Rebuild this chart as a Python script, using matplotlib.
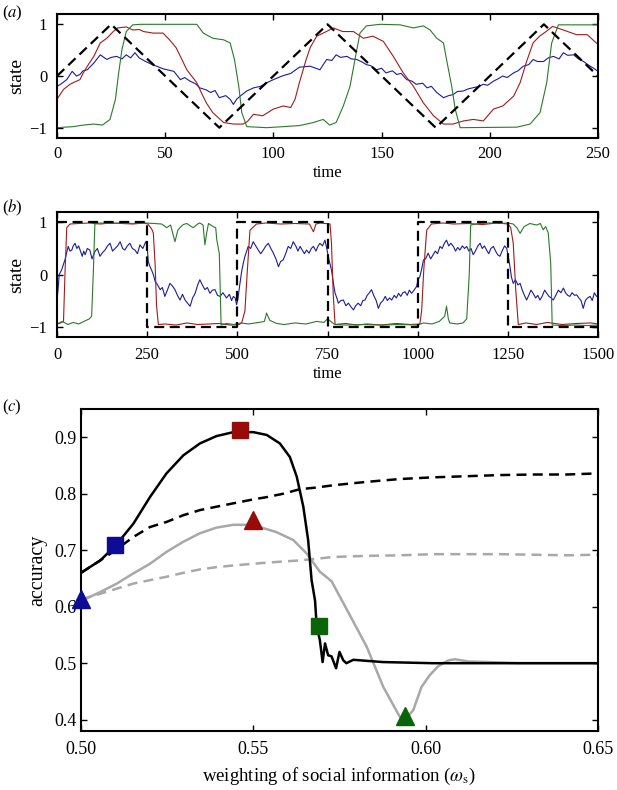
import numpy as np
import matplotlib
matplotlib.use('Agg')
import matplotlib.pyplot as plt

plt.rcParams['font.family'] = 'serif'
plt.rcParams['font.serif'] = ['Liberation Serif', 'DejaVu Serif']
plt.rcParams['mathtext.fontset'] = 'stix'

BLUE = '#1c1c9c'
RED = '#a01c1c'
GREEN = '#2a7a2a'
GRAY = '#a8a8a8'

# ---------- panel (a): triangle-wave environment ----------
a_env_t = [0, 25, 75, 125, 175, 225, 250]
a_env_v = [0, 1, -1, 1, -1, 1, 0]

a_blue = [(0, -0.2), (2, -0.15), (4.5, -0.07), (7, 0.09), (9, 0.0), (10.6, 0.03), (12, 0.1), (14, 0.12),
          (17, 0.25), (20, 0.41), (23, 0.32), (25, 0.36), (27.6, 0.38), (30, 0.33), (32, 0.41), (34, 0.35),
          (36, 0.45), (38, 0.35), (41, 0.28), (44, 0.22), (46, 0.19), (49, 0.14), (51, 0.12), (54, 0.09),
          (57, -0.07), (59, -0.03), (61.5, -0.1), (64, -0.15), (66, -0.23), (69, -0.27), (71, -0.32),
          (73, -0.28), (75, -0.42), (78, -0.38), (80, -0.45), (81.5, -0.55), (83, -0.45), (84.6, -0.39),
          (87.7, -0.29), (90.8, -0.23), (94, -0.2), (97, -0.13), (100, -0.07), (104, 0.0), (108, 0.05),
          (112, 0.17), (117, 0.19), (121.5, 0.12), (124.6, 0.32), (127, 0.3), (129, 0.41), (131, 0.36),
          (134, 0.38), (136, 0.33), (138.5, 0.32), (141, 0.27), (143, 0.22), (145, 0.2), (147.7, 0.12),
          (150, 0.15), (152, 0.06), (155, 0.1), (157, 0.03), (159, 0.05), (161.6, -0.07), (164, -0.1),
          (166, -0.16), (169, -0.14), (171, -0.23), (173, -0.2), (175.5, -0.32), (178.6, -0.42),
          (181, -0.38), (183, -0.36), (185, -0.3), (187.8, -0.29), (190, -0.25), (192, -0.23), (195, -0.2),
          (197, -0.16), (199, -0.18), (201.7, -0.1), (204, -0.05), (206, 0.0), (208, -0.03), (211, 0.06),
          (213, 0.1), (215.5, 0.19), (218, 0.22), (220, 0.32), (222, 0.28), (224.8, 0.28), (227, 0.35),
          (229.4, 0.38), (232, 0.33), (234, 0.45), (236, 0.4), (238.7, 0.41), (241, 0.33), (243.3, 0.28),
          (246, 0.2), (248, 0.15), (250, 0.09)]

a_red = [(0, -0.45), (3, -0.26), (6, -0.16), (8, -0.12), (10.6, -0.07), (12, 0.05), (14, 0.19), (17, 0.38),
         (20, 0.64), (23, 0.73), (26, 0.86), (28, 0.93), (32, 0.95), (35, 0.89), (38, 0.9), (40, 0.86),
         (44.5, 0.83), (49, 0.83), (52, 0.7), (55, 0.55), (57, 0.38), (60, 0.12), (64.6, -0.13),
         (67, -0.35), (69, -0.52), (72, -0.71), (77, -0.9), (81.5, -0.93), (86, -0.93), (88, -0.88),
         (90.8, -0.74), (95, -0.77), (100, -0.64), (104.6, -0.58), (108, -0.61), (110, -0.45),
         (112, -0.13), (115, 0.3), (117, 0.55), (120, 0.77), (123, 0.83), (127.7, 0.93), (132, 0.86),
         (137, 0.86), (141.6, 0.73), (146, 0.77), (150.8, 0.67), (155.4, 0.38), (160, 0.06),
         (164.7, -0.2), (169.3, -0.52), (174, -0.77), (178.6, -0.93), (183, -0.93), (187.8, -0.87),
         (192.4, -0.84), (197, -0.87), (201.7, -0.64), (206, -0.58), (211, -0.39), (214, -0.13),
         (217, 0.28), (220, 0.64), (223, 0.77), (226, 0.86), (229, 0.96), (234, 0.89), (240, 0.8),
         (245, 0.8), (250, 0.61)]

a_green = [(0, -1.0), (7.5, -0.98), (12, -0.95), (17, -0.93), (21, -0.95), (24.5, -0.84), (27, -0.45),
           (28.3, 0.0), (30, 0.51), (32, 0.86), (35, 0.99), (38.4, 1.0), (50, 1.0), (64.6, 1.0),
           (67.6, 0.83), (72, 0.73), (77, 0.7), (80, 0.64), (82, 0.32), (84, -0.2), (85.4, -0.71),
           (87.7, -0.98), (97, -1.0), (112, -0.96), (118.5, -0.9), (123, -0.84), (126, -0.95),
           (129, -0.9), (132.3, -0.58), (135.4, -0.2), (137.7, 0.32), (140, 0.83), (143, 0.97),
           (149.3, 1.0), (158.5, 0.99), (164.7, 0.93), (169.3, 0.97), (172.4, 0.89), (175.5, 0.73),
           (178.6, 0.64), (180, 0.32), (182.4, -0.2), (184, -0.64), (186.3, -1.0), (212.5, -0.99),
           (218.6, -0.93), (223.2, -0.71), (226.3, -0.13), (228.6, 0.64), (231.7, 0.99), (250, 0.99)]

# ---------- panel (b): switching environment ----------
b_env_t = [0, 250, 250, 500, 500, 750, 750, 1000, 1000, 1250, 1250, 1500]
b_env_v = [1, 1, -1, -1, 1, 1, -1, -1, 1, 1, -1, -1]

b_blue = [(0, -0.5), (4, -0.2), (6, 0.0), (10, 0.05), (13, 0.09), (18, 0.2), (22, 0.28), (26, 0.4), (31, 0.54),
          (36, 0.45), (41, 0.47), (45, 0.55), (50, 0.6), (55, 0.5), (60, 0.55), (64, 0.47), (70, 0.35),
          (74, 0.45), (78, 0.38), (84, 0.5), (91, 0.47), (97, 0.3), (105, 0.44), (112, 0.5), (119, 0.35),
          (126, 0.42), (133, 0.47), (140, 0.55), (147, 0.6), (154, 0.45), (161, 0.5), (168, 0.55),
          (175, 0.63), (182, 0.5), (188, 0.47), (195, 0.55), (202, 0.6), (209, 0.5), (216, 0.47),
          (223, 0.4), (230, 0.57), (238, 0.5), (246, 0.63), (250, 0.55), (253, 0.25), (258, 0.15),
          (262, 0.09), (267, 0.0), (272, -0.13), (279, -0.2), (286, -0.29), (292, -0.25), (299, -0.42),
          (306, -0.3), (313, -0.17), (320, -0.22), (327, -0.29), (334, -0.4), (341, -0.49), (348, -0.38),
          (355, -0.49), (362, -0.55), (369, -0.61), (376, -0.45), (383, -0.36), (390, -0.2), (396, -0.1),
          (403, -0.2), (410, -0.29), (417, -0.25), (424, -0.36), (431, -0.3), (438, -0.29), (445, -0.4),
          (452, -0.42), (460, -0.35), (470, -0.45), (478, -0.38), (484, -0.5), (489, -0.42), (494, -0.45),
          (498, -0.58), (502, -0.45), (506, -0.23), (512, 0.06), (516, 0.2), (521, 0.35), (526, 0.45),
          (530, 0.54), (537, 0.5), (544, 0.63), (551, 0.55), (558, 0.47), (565, 0.4), (572, 0.47),
          (579, 0.55), (586, 0.6), (593, 0.5), (600, 0.41), (607, 0.3), (614, 0.15), (620, 0.25),
          (627, 0.28), (634, 0.4), (641, 0.54), (648, 0.5), (655, 0.63), (662, 0.55), (668, 0.45),
          (674, 0.54), (680, 0.47), (686, 0.4), (692, 0.47), (699, 0.41), (705, 0.5), (711, 0.54),
          (718, 0.45), (724, 0.55), (729, 0.6), (736, 0.55), (743, 0.66), (748, 0.5), (752, 0.35),
          (757, 0.2), (761, 0.09), (766, -0.15), (771, -0.36), (776, -0.45), (780, -0.55), (787, -0.5),
          (794, -0.49), (801, -0.6), (808, -0.55), (815, -0.62), (822, -0.68), (828, -0.6), (835, -0.55),
          (842, -0.6), (848, -0.5), (854, -0.49), (860, -0.4), (866, -0.35), (872, -0.29), (878, -0.4),
          (885, -0.5), (891, -0.65), (897, -0.55), (904, -0.5), (910, -0.42), (916, -0.5), (922, -0.45),
          (928, -0.49), (935, -0.4), (941, -0.45), (947, -0.36), (953, -0.42), (959, -0.35), (965, -0.33),
          (971, -0.4), (977, -0.3), (983, -0.36), (990, -0.3), (997, -0.23), (1001, -0.1), (1006, -0.04),
          (1011, 0.1), (1016, 0.28), (1022, 0.3), (1029, 0.41), (1036, 0.3), (1043, 0.38), (1049, 0.45),
          (1055, 0.4), (1062, 0.54), (1068, 0.5), (1074, 0.6), (1080, 0.66), (1086, 0.55), (1092, 0.6),
          (1099, 0.54), (1105, 0.45), (1111, 0.52), (1117, 0.47), (1124, 0.55), (1130, 0.5), (1136, 0.54),
          (1142, 0.45), (1148, 0.5), (1154, 0.38), (1160, 0.45), (1167, 0.55), (1173, 0.6), (1179, 0.5),
          (1185, 0.55), (1191, 0.47), (1197, 0.4), (1203, 0.5), (1210, 0.54), (1216, 0.45), (1222, 0.38),
          (1228, 0.35), (1234, 0.45), (1241, 0.55), (1247, 0.5), (1251, 0.35), (1256, 0.15), (1260, -0.05),
          (1265, -0.17), (1271, -0.1), (1278, -0.2), (1284, -0.17), (1290, -0.3), (1296, -0.4),
          (1302, -0.49), (1308, -0.4), (1314, -0.3), (1320, -0.36), (1327, -0.45), (1333, -0.4),
          (1339, -0.49), (1345, -0.42), (1352, -0.3), (1358, -0.36), (1364, -0.42), (1370, -0.45),
          (1376, -0.49), (1383, -0.4), (1390, -0.3), (1397, -0.35), (1404, -0.26), (1410, -0.35),
          (1416, -0.4), (1422, -0.42), (1428, -0.35), (1435, -0.4), (1441, -0.39), (1447, -0.45),
          (1453, -0.5), (1459, -0.65), (1465, -0.5), (1471, -0.45), (1478, -0.42), (1484, -0.5),
          (1490, -0.35), (1496, -0.42), (1500, -0.42)]

b_red = [(0, -0.95), (10, -0.93), (18, -0.9), (22, 0.0), (27, 0.9), (36, 0.97), (60, 0.98), (90, 0.99),
         (120, 0.97), (150, 0.99), (180, 0.98), (210, 0.97), (240, 0.99), (252, 0.97), (262, 0.88),
         (267, 0.8), (272, 0.2), (276, -0.6), (281, -0.96), (300, -0.95), (330, -0.97), (360, -0.93),
         (390, -0.96), (420, -0.95), (450, -0.94), (480, -0.97), (505, -0.96), (512, -0.93), (521, -0.7),
         (527, 0.0), (535, 0.85), (553, 0.97), (580, 0.99), (620, 0.97), (660, 0.98), (700, 0.97),
         (711, 0.82), (718, 0.97), (730, 0.99), (757, 0.97), (761, 0.6), (766, -0.4), (771, -0.96),
         (800, -0.94), (830, -0.97), (860, -0.95), (900, -0.97), (940, -0.94), (980, -0.96),
         (1006, -0.95), (1011, -0.7), (1017, 0.1), (1025, 0.85), (1038, 0.97), (1070, 0.99),
         (1100, 0.97), (1140, 0.98), (1180, 0.96), (1220, 0.99), (1251, 0.97), (1258, 0.9),
         (1265, 0.6), (1272, -0.3), (1279, -0.96), (1300, -0.93), (1330, -0.96), (1360, -0.92),
         (1400, -0.96), (1440, -0.94), (1480, -0.93), (1500, -0.95)]

b_green = [(0, -0.95), (15, -0.9), (30, -0.96), (45, -0.92), (60, -0.95), (75, -0.9), (90, -0.85),
           (96, -0.8), (101, 0.1), (105, 0.97), (120, 0.99), (150, 0.98), (180, 0.99), (210, 0.98),
           (240, 0.99), (270, 0.98), (290, 0.97), (304, 0.9), (315, 0.95), (327, 0.63), (335, 0.85),
           (341, 0.9), (350, 0.96), (360, 0.98), (370, 0.93), (378, 0.9), (390, 0.97), (396, 0.99),
           (405, 0.95), (410, 0.57), (415, 0.8), (420, 0.98), (433, 0.92), (440, 0.9), (443, 0.67),
           (450, 0.4), (455, -0.97), (470, -0.94), (490, -0.96), (510, -0.93), (530, -0.95),
           (560, -0.92), (575, -0.9), (581, -0.74), (590, -0.88), (609, -0.94), (630, -0.96),
           (660, -0.93), (690, -0.95), (720, -0.9), (740, -0.92), (750, -0.85), (770, -0.96),
           (800, -0.97), (850, -0.96), (900, -0.97), (950, -0.96), (1000, -0.97), (1016, -0.93),
           (1040, -0.95), (1060, -0.9), (1075, -0.8), (1080, -0.61), (1085, -0.85), (1089, -0.93),
           (1110, -0.95), (1126, -0.93), (1136, -0.85), (1143, 0.0), (1147, 0.95), (1170, 0.98),
           (1200, 0.99), (1230, 0.98), (1250, 0.99), (1265, 0.97), (1275, 0.9), (1284, 0.79),
           (1295, 0.92), (1311, 0.98), (1330, 0.95), (1340, 0.98), (1348, 0.86), (1355, 0.92),
           (1362, 0.8), (1369, 0.2), (1373, -0.97), (1400, -0.98), (1440, -0.97), (1470, -0.98),
           (1500, -0.97)]

# ---------- panel (c): accuracy vs social weighting ----------
c_black_x = [0.500, 0.5056, 0.510, 0.5152, 0.520, 0.5248, 0.5297, 0.5345, 0.5393, 0.5442, 0.550, 0.5539,
             0.5577, 0.5606, 0.5626, 0.5645, 0.5659, 0.5669, 0.5679, 0.5684, 0.5693, 0.5701, 0.5708,
             0.5717, 0.5727, 0.5740, 0.5750, 0.5761, 0.5770, 0.5790, 0.5876, 0.6020, 0.6500]
c_black_y = [0.660, 0.682, 0.708, 0.747, 0.794, 0.836, 0.868, 0.889, 0.902, 0.909, 0.909, 0.904,
             0.889, 0.865, 0.830, 0.777, 0.718, 0.647, 0.611, 0.564, 0.541, 0.502, 0.535,
             0.514, 0.512, 0.491, 0.520, 0.505, 0.500, 0.506, 0.502, 0.500, 0.500]

c_black_dash_x = [0.500, 0.5056, 0.510, 0.5152, 0.520, 0.5248, 0.5297, 0.5345, 0.5393, 0.5442, 0.550,
                  0.5539, 0.5587, 0.5635, 0.5684, 0.5732, 0.5829, 0.5925, 0.6021, 0.6119, 0.6215,
                  0.6312, 0.6409, 0.6500]
c_black_dash_y = [0.660, 0.682, 0.700, 0.7235, 0.741, 0.750, 0.762, 0.771, 0.777, 0.783, 0.790,
                  0.794, 0.800, 0.808, 0.811, 0.815, 0.821, 0.826, 0.829, 0.831, 0.833,
                  0.834, 0.834, 0.836]

c_gray_x = [0.500, 0.5016, 0.5056, 0.5104, 0.5152, 0.520, 0.5248, 0.5297, 0.5345, 0.5393, 0.5442, 0.548,
            0.5519, 0.5567, 0.5616, 0.5655, 0.5693, 0.5727, 0.578, 0.5829, 0.5877, 0.5906, 0.5925,
            0.594, 0.5964, 0.5988, 0.6012, 0.6037, 0.6066, 0.6085, 0.6124, 0.6182, 0.6268, 0.650]
c_gray_y = [0.613, 0.6145, 0.626, 0.641, 0.659, 0.676, 0.697, 0.715, 0.730, 0.740, 0.745, 0.745,
            0.741, 0.732, 0.718, 0.694, 0.662, 0.645, 0.585, 0.529, 0.458, 0.426, 0.405,
            0.400, 0.417, 0.458, 0.479, 0.495, 0.505, 0.507, 0.503, 0.502, 0.500, 0.500]

c_gray_dash_x = [0.500, 0.5056, 0.5104, 0.5152, 0.520, 0.5248, 0.5297, 0.5345, 0.5393, 0.5442, 0.550,
                 0.5539, 0.5587, 0.5635, 0.5684, 0.5732, 0.5829, 0.5925, 0.6021, 0.6119, 0.6215,
                 0.6312, 0.6409, 0.650]
c_gray_dash_y = [0.613, 0.623, 0.632, 0.641, 0.647, 0.653, 0.660, 0.666, 0.670, 0.673, 0.676,
                 0.678, 0.680, 0.682, 0.685, 0.688, 0.690, 0.691, 0.693, 0.693, 0.693,
                 0.692, 0.691, 0.692]

square_x = [0.510, 0.546, 0.569]
square_y = [0.710, 0.912, 0.565]
triangle_x = [0.500, 0.550, 0.594]
triangle_y = [0.614, 0.753, 0.407]
marker_colors = ['#0c0c96', '#990a0a', '#0a640a']


def style_axes(ax, fs, ypad, xpad):
    for s in ax.spines.values():
        s.set_linewidth(1.5)
    ax.tick_params(direction='in', top=True, right=True, length=4, width=1,
                   labelsize=fs)
    ax.tick_params(axis='y', pad=ypad)
    ax.tick_params(axis='x', pad=xpad)


def plot_pairs(ax, pairs, color, lw=0.8):
    arr = np.array(pairs)
    ax.plot(arr[:, 0], arr[:, 1], color=color, lw=lw)


def main():
    fig = plt.figure(figsize=(6.17, 7.90), dpi=100)

    # (a)
    ax1 = fig.add_axes([0.0924, 0.8253, 0.8768, 0.1570])
    plot_pairs(ax1, a_blue, BLUE)
    plot_pairs(ax1, a_red, RED)
    plot_pairs(ax1, a_green, GREEN)
    ax1.plot(a_env_t, a_env_v, color='black', lw=1.6, dashes=(4.5, 2.5))
    ax1.set_xlim(0, 250)
    ax1.set_ylim(-1.2, 1.2)
    ax1.set_xticks([0, 50, 100, 150, 200, 250])
    ax1.set_yticks([-1, 0, 1])
    style_axes(ax1, 12, 7, 6)
    ax1.set_xlabel('time', fontsize=12, labelpad=2)
    ax1.set_ylabel('state', fontsize=14, labelpad=3)
    fig.text(0.003, 1 - 13 / 790, r'($\mathit{a}$)', fontsize=12, va='center')

    # (b)
    ax2 = fig.add_axes([0.0924, 0.5734, 0.8768, 0.1582])
    plot_pairs(ax2, b_blue, BLUE)
    plot_pairs(ax2, b_red, RED)
    plot_pairs(ax2, b_green, GREEN)
    ax2.plot(b_env_t, b_env_v, color='black', lw=1.6, dashes=(4.5, 2.5))
    ax2.set_xlim(0, 1500)
    ax2.set_ylim(-1.2, 1.2)
    ax2.set_xticks([0, 250, 500, 750, 1000, 1250, 1500])
    ax2.set_yticks([-1, 0, 1])
    style_axes(ax2, 12, 7, 7)
    ax2.set_xlabel('time', fontsize=12, labelpad=2)
    ax2.set_ylabel('state', fontsize=14, labelpad=3)
    fig.text(0.003, 1 - 208 / 790, r'($\mathit{b}$)', fontsize=12, va='center')

    # (c)
    ax3 = fig.add_axes([0.1313, 0.0747, 0.8379, 0.4076])
    ax3.plot(c_gray_dash_x, c_gray_dash_y, color=GRAY, lw=1.8, dashes=(4, 2.5))
    ax3.plot(c_gray_x, c_gray_y, color=GRAY, lw=1.8)
    ax3.plot(c_black_dash_x, c_black_dash_y, color='black', lw=1.8, dashes=(4, 2.5))
    ax3.plot(c_black_x, c_black_y, color='black', lw=1.8)
    for x, y, c in zip(square_x, square_y, marker_colors):
        ax3.plot(x, y, marker='s', ms=12, color=c, mec=c, clip_on=False, zorder=5)
    for x, y, c in zip(triangle_x, triangle_y, marker_colors):
        ax3.plot(x, y, marker='^', ms=13, color=c, mec=c, clip_on=False, zorder=5)
    ax3.set_xlim(0.5, 0.65)
    ax3.set_ylim(0.38, 0.95)
    ax3.set_xticks([0.50, 0.55, 0.60, 0.65])
    ax3.set_xticklabels(['0.50', '0.55', '0.60', '0.65'])
    ax3.set_yticks([0.4, 0.5, 0.6, 0.7, 0.8, 0.9])
    ax3.set_yticklabels(['0.4', '0.5', '0.6', '0.7', '0.8', '0.9'])
    style_axes(ax3, 13, 3, 7)
    ax3.set_xlabel(r'weighting of social information ($\omega_{\mathrm{s}}$)', fontsize=13.5, labelpad=6)
    ax3.set_ylabel('accuracy', fontsize=14.5, labelpad=5)
    fig.text(0.003, 1 - 407 / 790, r'($\mathit{c}$)', fontsize=12, va='center')

    fig.savefig('out.png', dpi=100)


if __name__ == '__main__':
    main()
